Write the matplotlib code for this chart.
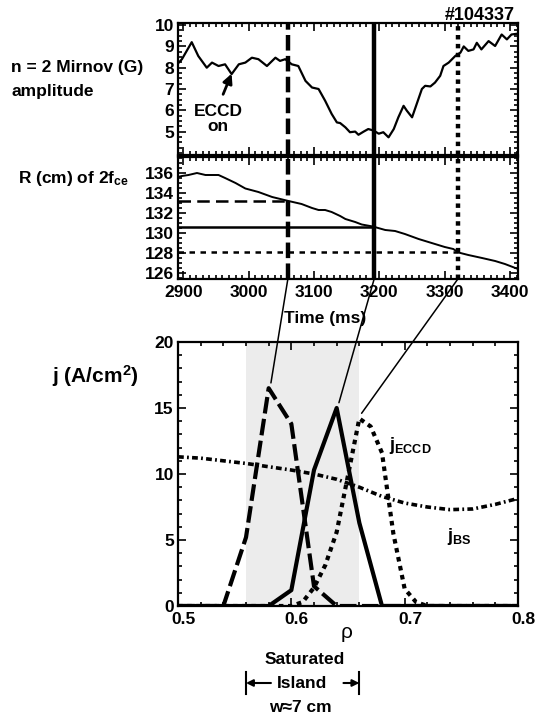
import numpy as np
import matplotlib
matplotlib.use("Agg")
import matplotlib.pyplot as plt
from matplotlib.ticker import MultipleLocator, FixedLocator
from matplotlib.patches import ConnectionPatch
from matplotlib.transforms import blended_transform_factory, ScaledTranslation

plt.rcParams['font.family'] = ['Liberation Sans', 'DejaVu Sans']
plt.rcParams['font.weight'] = 'bold'
plt.rcParams['mathtext.fontset'] = 'custom'
plt.rcParams['mathtext.rm'] = 'Liberation Sans:bold'
plt.rcParams['mathtext.it'] = 'Liberation Sans:bold'
plt.rcParams['mathtext.bf'] = 'Liberation Sans:bold'
plt.rcParams['mathtext.default'] = 'rm'

# n = 2 Mirnov amplitude (G) vs time (ms)
mirnov_t = [2892, 2898, 2913, 2923, 2936, 2944, 2954, 2964, 2974, 2985, 2995, 3005,
            3015, 3028, 3041, 3048, 3056, 3066, 3076, 3087, 3097, 3107, 3117, 3127,
            3135, 3140, 3148, 3155, 3163, 3168, 3176, 3183, 3191, 3199, 3206, 3214,
            3222, 3229, 3237, 3242, 3250, 3257, 3265, 3270, 3278, 3285, 3293, 3298,
            3306, 3316, 3324, 3329, 3336, 3344, 3349, 3356, 3367, 3377, 3387, 3395,
            3402, 3412]
mirnov_v = [8.2, 8.4, 9.2, 8.55, 8.0, 8.24, 8.08, 8.16, 7.7, 8.16, 8.24, 8.47,
            8.4, 8.08, 8.47, 8.32, 8.4, 8.16, 8.08, 7.38, 7.07, 7.0, 6.45, 5.83,
            5.43, 5.4, 5.2, 4.97, 5.0, 4.85, 5.0, 5.12, 5.05, 4.9, 4.97, 4.73,
            5.12, 5.67, 6.21, 5.98, 5.67, 6.29, 7.0, 7.15, 7.12, 7.3, 7.62, 8.08,
            8.24, 8.55, 8.71, 9.0, 8.79, 8.86, 9.17, 8.86, 9.25, 9.02, 9.56, 9.33,
            9.56, 9.6]

# R (cm) of 2fce vs time
r_t = [2892, 2898, 2908, 2921, 2934, 2954, 2964, 2980, 2995, 3015, 3036, 3061,
       3081, 3097, 3107, 3117, 3127, 3140, 3148, 3163, 3173, 3190, 3209, 3224,
       3239, 3260, 3280, 3300, 3313, 3321, 3336, 3357, 3377, 3392, 3412]
r_v = [135.6, 135.7, 135.8, 136.0, 135.8, 135.8, 135.5, 135.0, 134.45, 134.1, 133.6, 133.2,
       132.9, 132.5, 132.3, 132.3, 132.1, 131.7, 131.4, 131.1, 130.85, 130.65, 130.3, 130.2,
       129.9, 129.4, 129.0, 128.6, 128.4, 128.05, 127.8, 127.5, 127.2, 126.9, 126.4]

# times of the three ECCD profiles: dashed, solid, dotted
t_marks = [3060, 3192, 3320]

# current density profiles vs rho
rho_c = [0.50, 0.52, 0.54, 0.56, 0.58, 0.60, 0.62, 0.64, 0.66, 0.68, 0.70, 0.72,
         0.74, 0.76, 0.78, 0.80]
j_dashed = [0, 0, 0, 5.2, 16.5, 13.8, 1.5, 0, 0, 0, 0, 0, 0, 0, 0, 0]
j_solid = [0, 0, 0, 0, 0, 1.2, 10.3, 15.0, 6.3, 0, 0, 0, 0, 0, 0, 0]
j_bs = [11.3, 11.2, 11.0, 10.8, 10.55, 10.3, 10.0, 9.6, 9.0, 8.3, 7.8, 7.5,
        7.3, 7.35, 7.7, 8.15]
rho_f = [0.50, 0.55, 0.60, 0.61, 0.62, 0.63, 0.64, 0.65, 0.66, 0.67, 0.68, 0.69,
         0.70, 0.71, 0.72, 0.76, 0.80]
j_dotted = [0, 0, 0, 0.3, 1.4, 3.1, 5.6, 9.9, 14.2, 13.6, 11.6, 5.5,
            1.3, 0.3, 0, 0, 0]

island = [0.56, 0.66]

fig = plt.figure(figsize=(5.36, 7.18), dpi=100)
L, W = 178 / 536, 340 / 536
ax1 = fig.add_axes([L, 1 - 155 / 718, W, 132 / 718])
ax2 = fig.add_axes([L, 1 - 279 / 718, W, 122 / 718])
ax3 = fig.add_axes([L, 1 - 606 / 718, W, 264 / 718])

for ax in (ax1, ax2, ax3):
    for s in ax.spines.values():
        s.set_linewidth(1.6)
    ax.tick_params(which='both', direction='in', top=True, right=True,
                   labelsize=12.5, width=1.2)
    ax.tick_params(which='major', length=6)
    ax.tick_params(which='minor', length=3)

styles = [dict(ls=(0, (3.5, 1.2))), dict(ls='-'), dict(ls=(0, (1, 1)))]

# top panel
ax1.plot(mirnov_t, mirnov_v, color='k', lw=1.6)
for t, st in zip(t_marks, styles):
    ax1.axvline(t, color='k', lw=3.2, **st)
ax1.set_xlim(2892, 3412)
ax1.set_ylim(3.9, 10.1)
ax1.yaxis.set_major_locator(FixedLocator([5, 6, 7, 8, 9, 10]))
ax1.yaxis.set_minor_locator(MultipleLocator(0.25))
ax1.xaxis.set_major_locator(MultipleLocator(100))
ax1.xaxis.set_minor_locator(MultipleLocator(10))
ax1.tick_params(axis='x', labelbottom=False)
ax1.tick_params(axis='y', pad=3)
ax1.annotate('', xy=(2974, 7.72), xytext=(2961, 6.75),
             arrowprops=dict(arrowstyle='-|>', color='k', lw=2, mutation_scale=14,
                             shrinkA=0, shrinkB=0))
ax1.text(2953, 5.6, 'ECCD\non', ha='center', va='center', fontsize=12.5,
         linespacing=1.0)

# middle panel
ax2.plot(r_t, r_v, color='k', lw=1.4)
r_at = np.interp(t_marks, r_t, r_v)
hstyles = [dict(ls=(0, (5, 2.5))), dict(ls='-'), dict(ls=(0, (2.2, 2.2)))]
for t, r, st in zip(t_marks, r_at, hstyles):
    ax2.plot([2892, t], [r, r], color='k', lw=1.8, **st)
for t, st in zip(t_marks, styles):
    ax2.axvline(t, color='k', lw=3.2, **st)
ax2.set_xlim(2892, 3412)
ax2.set_ylim(125.4, 137.6)
ax2.yaxis.set_major_locator(MultipleLocator(2))
ax2.yaxis.set_minor_locator(MultipleLocator(0.5))
ax2.xaxis.set_major_locator(MultipleLocator(100))
ax2.xaxis.set_minor_locator(MultipleLocator(10))
ax2.tick_params(axis='y', pad=3)
ax2.tick_params(axis='x', pad=4)

# bottom panel
ax3.axvspan(island[0], island[1], color='#ececec', lw=0, zorder=0)
ax3.plot(rho_c, j_bs, color='k', lw=2.6, ls=(0, (1.6, 0.9, 0.5, 0.9)))
ax3.plot(rho_c, j_dashed, color='k', lw=3, ls=(0, (4, 1.3)))
ax3.plot(rho_c, j_solid, color='k', lw=3, ls='-')
ax3.plot(rho_f, j_dotted, color='k', lw=3, ls=(0, (1.1, 1.1)))
ax3.set_xlim(0.5, 0.8)
ax3.set_ylim(0, 20)
ax3.xaxis.set_major_locator(MultipleLocator(0.1))
ax3.xaxis.set_minor_locator(MultipleLocator(0.02))
ax3.yaxis.set_major_locator(MultipleLocator(5))
ax3.yaxis.set_minor_locator(MultipleLocator(1))
ax3.tick_params(axis='y', pad=3)
ax3.tick_params(axis='x', pad=4)
shift = ScaledTranslation(4 / 72, 0, fig.dpi_scale_trans)
for lab in ax3.get_xticklabels():
    lab.set_transform(lab.get_transform() + shift)
ax3.text(0.686, 11.8, r'j$_{ECCD}$', fontsize=13)
ax3.text(0.737, 4.9, r'j$_{BS}$', fontsize=13)

# connectors from the time markers to the profile peaks
peaks = []
for rr, jj in [(rho_c, j_dashed), (rho_c, j_solid), (rho_f, j_dotted)]:
    k = int(np.argmax(jj))
    peaks.append((rr[k], jj[k]))
for t, (pr, pj) in zip(t_marks, peaks):
    con = ConnectionPatch(xyA=(t, 125.4), coordsA=ax2.transData,
                          xyB=(pr + 0.002, pj + 0.4), coordsB=ax3.transData,
                          color='k', lw=1.1)
    fig.add_artist(con)

# figure labels
fig.text(515 / 536, 1 - 20 / 718, '#104337', ha='right', va='baseline', fontsize=13)
fig.text(11 / 536, 1 - 72 / 718, 'n = 2 Mirnov (G)', ha='left', va='baseline', fontsize=12.5)
fig.text(11 / 536, 1 - 96 / 718, 'amplitude', ha='left', va='baseline', fontsize=12.5)
fig.text(18 / 536, 1 - 183 / 718, r'R (cm) of 2f$_{ce}$', ha='left', va='baseline', fontsize=12.5)
fig.text(325 / 536, 1 - 318 / 718, 'Time (ms)', ha='center', va='center', fontsize=12.5)
fig.text(52 / 536, 1 - 383 / 718, r'j (A/cm$^{2}$)', ha='left', va='baseline', fontsize=15)
fig.text(347 / 536, 1 - 632 / 718, 'ρ', ha='center', va='center', fontsize=15,
         fontweight='normal')

# saturated island width annotation
bt = blended_transform_factory(ax3.transData, fig.transFigure)
fig.text(305 / 536, 1 - 660 / 718, 'Saturated', ha='center', va='center', fontsize=12.5)
fig.text(302 / 536, 1 - 683 / 718, 'Island', ha='center', va='center', fontsize=12.5)
fig.text(300 / 536, 1 - 707 / 718, 'w≈7 cm', ha='center', va='center', fontsize=12.5)
for x in island:
    ax3.plot([x, x], [1 - 694 / 718, 1 - 672 / 718], color='k', lw=1.5,
             transform=bt, clip_on=False)
ymid = 1 - 683 / 718
ax3.annotate('', xy=(island[0], ymid), xytext=(0.582, ymid), xycoords=bt, textcoords=bt,
             arrowprops=dict(arrowstyle='-|>', color='k', lw=1.5, mutation_scale=10,
                             shrinkA=0, shrinkB=0))
ax3.annotate('', xy=(island[1], ymid), xytext=(0.646, ymid), xycoords=bt, textcoords=bt,
             arrowprops=dict(arrowstyle='-|>', color='k', lw=1.5, mutation_scale=10,
                             shrinkA=0, shrinkB=0))

fig.savefig('out.png', dpi=100)
